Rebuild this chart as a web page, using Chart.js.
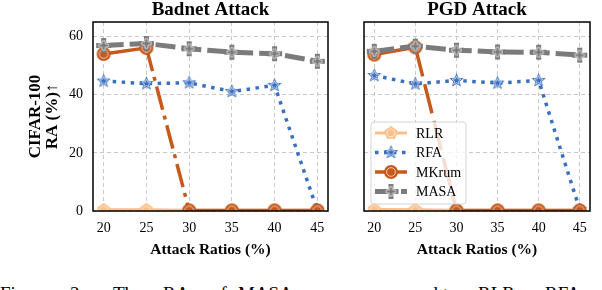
<!DOCTYPE html>
<html>
<head>
<meta charset="utf-8">
<script src="https://cdn.jsdelivr.net/npm/chart.js@4.4.0/dist/chart.umd.min.js"></script>
<style>
html, body { margin: 0; padding: 0; background: #fff; }
body { width: 602px; height: 290px; position: relative; overflow: hidden; font-family: 'Liberation Serif', 'Times New Roman', serif; }
#left { position: absolute; left: 0; top: 0; }
#right { position: absolute; left: 340px; top: 0; }
.cap { position: absolute; top: 284.3px; font-size: 19px; line-height: 19px; white-space: nowrap; color: #000; }
</style>
</head>
<body>
<canvas id="left" width="340" height="262"></canvas>
<canvas id="right" width="262" height="262"></canvas>
<span class="cap" style="left:0px">Figure</span>
<span class="cap" style="left:70px">2:</span>
<span class="cap" style="left:113px">The</span>
<span class="cap" style="left:163px">RA</span>
<span class="cap" style="left:211px">of</span>
<span class="cap" style="left:238px">MASA</span>
<span class="cap" style="left:363px">compared</span>
<span class="cap" style="left:443px">to</span>
<span class="cap" style="left:478px">RLR,</span>
<span class="cap" style="left:545px">RFA,</span>
<script>
// attack ratios (x) and RA values (%)
const ratios = [20, 25, 30, 35, 40, 45];
const seriesNames = ['RLR', 'RFA', 'MKrum', 'MASA'];

const badnetRLR = [0.4, 0.4, 0.3, 0.3, 0.3, 0.3];
const badnetRFA = [44.7, 43.8, 44.1, 41.1, 43.2, 0.3];
const badnetMKrum = [54.0, 56.1, 0.2, 0.2, 0.2, 0.2];
const badnetMASA = [56.9, 57.6, 55.8, 54.6, 54.1, 51.5];

const pgdRLR = [0.5, 0.4, 0.3, 0.3, 0.3, 0.3];
const pgdRFA = [46.6, 43.7, 44.9, 44.0, 44.9, 0.5];
const pgdMKrum = [53.8, 56.3, 0.2, 0.2, 0.2, 0.2];
const pgdMASA = [54.9, 56.7, 55.3, 54.7, 54.6, 53.6];

const yTicks = [0, 20, 40, 60];

const serif = "'Liberation Serif', 'Times New Roman', serif";
const colors = { RLR: '#fdbf88', RFA: '#3a6fc0', MKrum: '#c55a1c', MASA: '#7b7b7b' };

// marker images (pentagon, star, circle, filled plus)
function makeMarker(shape, color, size) {
    const pad = 2, s = size + pad * 2;
    const c = document.createElement('canvas');
    c.width = s; c.height = s;
    const g = c.getContext('2d');
    const cx = s / 2, cy = s / 2, r = size / 2;
    function path(k) {
        const a = r * k;
        g.beginPath();
        if (shape === 'circle') {
            g.arc(cx, cy, a, 0, Math.PI * 2);
        } else if (shape === 'pentagon') {
            for (let i = 0; i < 5; i++) {
                const t = -Math.PI / 2 + i * 2 * Math.PI / 5;
                g.lineTo(cx + a * Math.cos(t), cy + a * Math.sin(t));
            }
        } else if (shape === 'star') {
            for (let i = 0; i < 10; i++) {
                const t = -Math.PI / 2 + i * Math.PI / 5;
                const rr = i % 2 ? a * 0.45 : a;
                g.lineTo(cx + rr * Math.cos(t), cy + rr * Math.sin(t));
            }
        } else {
            const b = a / 3;
            const p = [[-b, -a], [b, -a], [b, -b], [a, -b], [a, b], [b, b], [b, a], [-b, a], [-b, b], [-a, b], [-a, -b], [-b, -b]];
            p.forEach(q => g.lineTo(cx + q[0], cy + q[1]));
        }
        g.closePath();
    }
    path(1);
    g.fillStyle = color;
    g.fill();
    path(0.62);
    g.strokeStyle = 'rgba(255,255,255,0.65)';
    g.lineWidth = 1;
    g.stroke();
    return c;
}

const markers = {
    RLR: makeMarker('pentagon', colors.RLR, 14),
    RFA: makeMarker('star', colors.RFA, 15),
    MKrum: makeMarker('circle', colors.MKrum, 14),
    MASA: makeMarker('plus', colors.MASA, 15)
};

// black box round the plot area + panel title centred over it
const framePlugin = {
    id: 'frame',
    afterDatasetsDraw(chart, args, o) {
        const { ctx, chartArea: a } = chart;
        ctx.save();
        ctx.strokeStyle = '#000';
        ctx.lineWidth = 1.5;
        ctx.strokeRect(a.left, a.top, a.right - a.left, a.bottom - a.top);
        ctx.fillStyle = '#000';
        ctx.font = 'bold 19px ' + serif;
        ctx.textAlign = 'center';
        ctx.textBaseline = 'middle';
        ctx.fillText(o.text, (a.left + a.right) / 2, 10);
        ctx.restore();
    }
};

const legendPlugin = {
    id: 'boxLegend',
    afterDraw(chart) {
        const { ctx, chartArea: a } = chart;
        const left = a.left + 7, bottom = a.bottom - 7;
        const w = 95, h = 82, top = bottom - h;
        ctx.save();
        ctx.beginPath();
        ctx.roundRect(left, top, w, h, 3);
        ctx.fillStyle = 'rgba(255,255,255,0.8)';
        ctx.fill();
        ctx.strokeStyle = '#d4d4d4';
        ctx.lineWidth = 1;
        ctx.stroke();
        chart.data.datasets.forEach((ds, i) => {
            const y = top + 11 + i * 19.5;
            ctx.beginPath();
            ctx.setLineDash(ds.borderDash || []);
            ctx.strokeStyle = ds.borderColor;
            ctx.lineWidth = ds.borderWidth;
            ctx.moveTo(left + 4, y);
            ctx.lineTo(left + 36, y);
            ctx.stroke();
            ctx.setLineDash([]);
            const m = ds.pointStyle;
            ctx.drawImage(m, left + 20 - m.width / 2, y - m.height / 2);
            ctx.fillStyle = '#000';
            ctx.font = '14px ' + serif;
            ctx.textBaseline = 'middle';
            ctx.fillText(ds.label, left + 45, y + 1);
        });
        ctx.restore();
    }
};

function pts(vals) {
    return ratios.map((r, i) => ({ x: r, y: vals[i] }));
}

function makeChart(id, title, rlr, rfa, mkrum, masa, opt) {
    const datasets = [
        { label: seriesNames[0], data: pts(rlr), borderColor: colors.RLR, borderWidth: 3, pointStyle: markers.RLR, order: 3 },
        { label: seriesNames[1], data: pts(rfa), borderColor: colors.RFA, borderWidth: 3.5, borderDash: [3.5, 5.5], pointStyle: markers.RFA, order: 2 },
        { label: seriesNames[2], data: pts(mkrum), borderColor: colors.MKrum, borderWidth: 3.5, pointStyle: markers.MKrum, order: 1,
          segment: { borderDash: c => c.p0DataIndex === 1 ? opt.dropDash : undefined } },
        { label: seriesNames[3], data: pts(masa), borderColor: colors.MASA, borderWidth: 5, borderDash: [20, 6], pointStyle: markers.MASA, order: 0 }
    ];
    datasets.forEach(d => {
        d.backgroundColor = d.borderColor;
        d.pointRadius = 7;
        d.tension = 0;
        d.clip = 0;
    });
    return new Chart(document.getElementById(id), {
        type: 'line',
        data: { datasets },
        options: {
            responsive: false,
            animation: false,
            layout: { padding: { left: 0, right: opt.padRight, top: 22, bottom: 0 } },
            plugins: {
                legend: { display: false },
                tooltip: { enabled: false },
                title: { display: false },
                frame: { text: title }
            },
            scales: {
                x: {
                    type: 'linear', min: 18.75, max: 46.25,
                    afterBuildTicks: s => { s.ticks = ratios.map(v => ({ value: v })); },
                    afterFit: s => { s.height = 51; },
                    grid: { color: '#c9c9c9', lineWidth: 1, drawTicks: false },
                    border: { display: false, dash: [4, 3] },
                    ticks: { color: '#000', font: { family: serif, size: 14 }, padding: 9, maxRotation: 0 },
                    title: { display: true, text: 'Attack Ratios (%)', color: '#000',
                        font: { family: serif, size: 15.5, weight: 'bold', lineHeight: 1 }, padding: { top: 0, bottom: 4 } }
                },
                y: {
                    min: 0, max: 65,
                    afterBuildTicks: s => { s.ticks = yTicks.map(v => ({ value: v })); },
                    afterFit: s => { s.width = opt.yWidth; },
                    grid: { color: '#c9c9c9', lineWidth: 1, drawTicks: false },
                    border: { display: false, dash: [4, 3] },
                    ticks: { display: opt.showY, color: '#000', font: { family: serif, size: 14 }, padding: 10 },
                    title: { display: opt.showY, text: ['CIFAR-100', 'RA (%)\u2191'], color: '#000',
                        font: { family: serif, size: 17, weight: 'bold', lineHeight: 1 }, padding: { top: 27.5, bottom: 0 } }
                }
            }
        },
        plugins: opt.legend ? [framePlugin, legendPlugin] : [framePlugin]
    });
}

makeChart('left', 'Badnet Attack', badnetRLR, badnetRFA, badnetMKrum, badnetMASA,
    { showY: true, yWidth: 93, padRight: 11, dropDash: [24, 6, 4, 6], legend: false });
makeChart('right', 'PGD Attack', pgdRLR, pgdRFA, pgdMKrum, pgdMASA,
    { showY: false, yWidth: 24, padRight: 4, dropDash: [30, 8], legend: true });
</script>
</body>
</html>
